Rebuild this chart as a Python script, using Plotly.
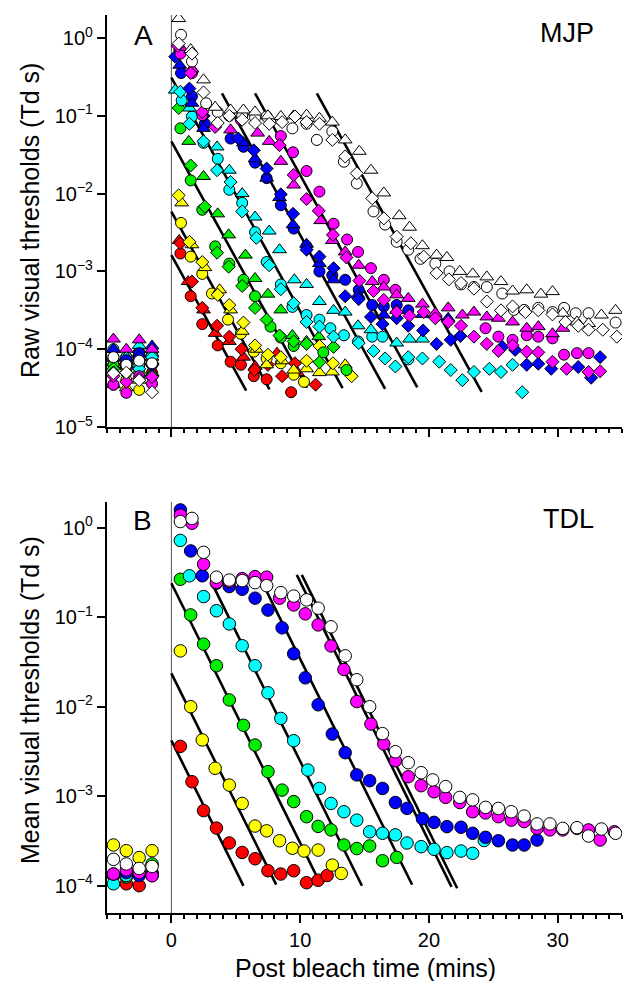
import plotly.graph_objects as go

# ---------------- Panel A (MJP, raw thresholds) ----------------
# each series: times (min) and thresholds (Td s)
a_red_circle_t = [-4.5, -3.5, -2.5, -1.5, 0.7, 1.5, 2.4, 3.6, 4.6, 5.4, 6.4, 7.4, 9.3]
a_red_circle_v = [6.3e-5, 7.9e-5, 5.6e-5, 5.0e-5, 1.7e-3, 4.8e-4, 2.1e-4, 1.12e-4, 6.9e-5, 6.3e-5, 4.5e-5, 4.1e-5, 2.8e-5]
a_red_diamond_t = [-4.5, -3.5, -2.5, -1.5, 0.7, 1.6, 2.4, 3.55, 4.5, 5.45, 6.45, 7.5, 8.6, 9.6, 11.2]
a_red_diamond_v = [7.1e-5, 5.6e-5, 7.9e-5, 6.3e-5, 2.3e-3, 7.4e-4, 3.4e-4, 2.0e-4, 1.45e-4, 1.0e-4, 5.4e-5, 6.3e-5, 4.5e-5, 6.6e-5, 3.5e-5]
a_red_triangle_t = [-4.5, -3.5, -2.5, -1.5, 0.6, 1.3, 2.5, 3.4, 4.5, 5.6, 6.5, 8.2, 9.8]
a_red_triangle_v = [1.0e-4, 7.1e-5, 8.9e-5, 7.9e-5, 2.5e-3, 7.4e-4, 3.2e-4, 1.6e-4, 1.26e-4, 7.9e-5, 6.0e-5, 8.9e-5, 5.0e-5]

a_yellow_circle_t = [-4.5, -3.5, -2.5, -1.5, 0.75, 1.5, 2.4, 3.15, 4.4, 5.4, 6.4, 7.4, 8.5, 9.5, 10.3]
a_yellow_circle_v = [3.5e-5, 4.0e-5, 3.0e-5, 4.5e-5, 4.2e-3, 1.55e-3, 9.3e-4, 5.2e-4, 2.4e-4, 1.58e-4, 9.3e-5, 7.6e-5, 6.6e-5, 4.7e-5, 3.8e-5]
a_yellow_diamond_t = [-4.5, -3.5, -2.5, -1.5, 0.57, 1.4, 2.4, 3.6, 4.5, 5.6, 6.5, 7.5, 8.5, 10.5, 11.5, 12.55, 14.0]
a_yellow_diamond_v = [6.3e-5, 5.0e-5, 7.1e-5, 4.5e-5, 9.5e-3, 2.4e-3, 1.32e-3, 5.0e-4, 3.7e-4, 2.2e-4, 1.12e-4, 8.5e-5, 7.9e-5, 7.1e-5, 1.1e-4, 6.6e-5, 4.5e-5]
a_yellow_triangle_t = [-4.5, -3.5, -2.5, -1.5, 0.8, 1.6, 2.6, 3.75, 4.6, 5.5, 6.6, 7.4, 8.6, 9.5, 10.5, 11.5, 12.5, 13.5]
a_yellow_triangle_v = [3.5e-5, 3.2e-5, 4.0e-5, 5.0e-5, 7.6e-3, 2.2e-3, 1.12e-3, 5.8e-4, 3.2e-4, 1.7e-4, 1.0e-4, 6.3e-5, 7.1e-5, 5.4e-5, 5.6e-5, 5.0e-5, 5.1e-5, 6.3e-5]

a_green_circle_t = [-4.5, -3.5, -2.5, -1.5, 0.7, 1.5, 2.4, 3.4, 4.5, 5.6, 6.5, 7.7, 8.5, 9.5, 11.8, 13.6]
a_green_circle_v = [6.3e-5, 5.0e-5, 7.1e-5, 4.5e-5, 6.9e-2, 1.48e-2, 6.2e-3, 2.1e-3, 1.26e-3, 7.8e-4, 4.8e-4, 1.95e-4, 1.41e-4, 1.1e-4, 9.1e-5, 5.4e-5]
a_green_diamond_t = [-4.5, -3.5, -2.5, -1.5, 0.57, 1.5, 2.6, 3.55, 4.45, 5.5, 6.5, 7.4, 8.4, 9.5, 10.5, 11.5, 12.6]
a_green_diamond_v = [5.6e-5, 7.1e-5, 5.0e-5, 6.3e-5, 0.126, 2.3e-2, 6.8e-3, 1.74e-3, 1.15e-3, 6.5e-4, 3.4e-4, 2.4e-4, 1.5e-4, 1.26e-4, 1.17e-4, 6.8e-5, 1.07e-4]
a_green_triangle_t = [-4.5, -3.5, -2.5, -1.5, 1.35, 2.5, 3.6, 4.45, 5.75, 6.5, 7.5, 8.5, 9.4, 10.5, 11.45]
a_green_triangle_v = [7.9e-5, 6.3e-5, 1.0e-4, 7.1e-5, 4.7e-2, 1.66e-2, 5.5e-3, 2.95e-3, 1.62e-3, 8.1e-4, 5.1e-4, 3.2e-4, 1.5e-4, 1.26e-4, 1.45e-4]

a_cyan_circle_t = [-4.5, -3.5, -2.5, -1.5, 0.8, 1.6, 2.5, 3.6, 4.5, 5.5, 6.5, 7.4, 8.5, 9.4, 10.5, 11.5, 12.35, 13.4, 14.5, 15.6, 16.4, 18.4]
a_cyan_circle_v = [1.0e-4, 7.9e-5, 6.3e-5, 8.9e-5, 0.158, 9.8e-2, 4.5e-2, 2.8e-2, 1.12e-2, 7.6e-3, 3.2e-3, 1.32e-3, 6.8e-4, 3.5e-4, 2.75e-4, 2.4e-4, 1.86e-4, 1.51e-4, 1.26e-4, 1.45e-4, 1.45e-4, 7.4e-5]
a_cyan_diamond_t = [-4.5, -3.5, -2.5, -1.5, 0.7, 1.4, 2.5, 3.55, 4.6, 5.5, 6.6, 7.6, 8.5, 9.5, 10.5, 11.5, 12.6, 14.55, 15.7, 16.6, 17.4, 18.4, 19.5, 20.8, 21.7, 22.6, 23.5, 24.7, 25.6, 26.5, 27.25]
a_cyan_diamond_v = [5.0e-5, 7.1e-5, 5.6e-5, 7.9e-5, 0.204, 7.9e-2, 4.7e-2, 2.0e-2, 1.41e-2, 5.9e-3, 2.7e-3, 1.2e-3, 5.9e-4, 3.9e-4, 2.24e-4, 1.95e-4, 1.45e-4, 1.2e-4, 9.5e-5, 7.6e-5, 6.0e-5, 7.9e-5, 7.6e-5, 6.9e-5, 5.4e-5, 4.0e-5, 5.1e-5, 5.6e-5, 5.1e-5, 6.3e-5, 2.8e-5]
a_cyan_triangle_t = [-4.5, -3.5, -2.5, -1.5, 0.3, 1.4, 3.55, 4.5, 5.5, 6.5, 7.6, 8.4, 9.55, 10.5, 11.5, 12.6, 13.5, 14.5, 15.5, 17.5, 18.5, 19.5]
a_cyan_triangle_v = [1.0e-4, 7.9e-5, 1.12e-4, 8.9e-5, 0.214, 0.126, 3.98e-2, 2.0e-2, 1.0e-2, 5.0e-3, 3.3e-3, 1.9e-3, 7.8e-4, 6.8e-4, 4.1e-4, 3.16e-4, 3.0e-4, 2.0e-4, 1.78e-4, 1.2e-4, 1.35e-4, 1.35e-4]

a_blue_circle_t = [-4.5, -3.5, -2.5, -1.5, 0.75, 1.6, 2.6, 4.6, 5.6, 6.5, 7.4, 8.5, 9.5, 10.5, 11.5, 12.5, 13.5, 14.55, 15.6, 16.5, 17.5, 18.4]
a_blue_circle_v = [7.9e-5, 7.2e-5, 8.9e-5, 6.3e-5, 0.355, 0.178, 7.9e-2, 5.1e-2, 4.0e-2, 2.5e-2, 1.58e-2, 7.1e-3, 3.55e-3, 2.1e-3, 1.0e-3, 8.9e-4, 7.8e-4, 5.8e-4, 3.7e-4, 3.55e-4, 3.7e-4, 3.16e-4]
a_blue_diamond_t = [-4.5, -3.5, -2.5, -1.5, 0.3, 1.4, 2.5, 5.2, 6.4, 7.4, 8.5, 9.45, 10.5, 11.5, 12.6, 13.5, 14.55, 15.5, 16.4, 17.5, 18.4, 19.55, 20.6, 21.7, 22.45, 25.7, 26.7, 27.6, 28.5, 29.5, 31.6, 32.6, 33.3]
a_blue_diamond_v = [5.0e-5, 6.3e-5, 7.9e-5, 6.3e-5, 0.575, 0.224, 0.1, 5.1e-2, 3.6e-2, 2.1e-2, 9.8e-3, 5.5e-3, 1.9e-3, 1.55e-3, 1.1e-3, 4.8e-4, 4.4e-4, 2.6e-4, 2.1e-4, 2.5e-4, 2.0e-4, 1.74e-4, 1.17e-4, 1.32e-4, 1.48e-4, 1.07e-4, 9.8e-5, 6.3e-5, 6.5e-5, 5.6e-5, 5.9e-5, 4.3e-5, 7.9e-5]
a_blue_triangle_t = [-4.5, -3.5, -2.5, -1.5, 0.65, 1.6, 2.5, 5.6, 6.5, 7.4, 8.4, 9.45, 10.5, 11.5, 12.6, 14.5, 16.5, 17.5, 19.5, 21.5]
a_blue_triangle_v = [1.0e-4, 6.3e-5, 7.9e-5, 1.1e-4, 0.447, 0.145, 6.9e-2, 4.5e-2, 2.8e-2, 1.58e-2, 8.9e-3, 3.98e-3, 2.24e-3, 1.26e-3, 7.8e-4, 5.0e-4, 2.75e-4, 3.16e-4, 2.8e-4, 2.5e-4]

a_magenta_circle_t = [-4.5, -3.5, -2.5, -1.5, 0.7, 1.6, 2.4, 5.4, 8.5, 9.45, 10.5, 11.5, 12.6, 13.65, 14.5, 15.5, 16.5, 17.4, 24.4, 25.4, 26.5, 27.6, 28.5, 29.6, 30.5, 31.5, 32.4]
a_magenta_circle_v = [3.5e-5, 2.75e-5, 4.5e-5, 3.6e-5, 0.63, 0.355, 0.102, 8.9e-2, 5.5e-2, 3.4e-2, 1.95e-2, 1.06e-2, 4.1e-3, 2.57e-3, 1.78e-3, 1.1e-3, 7.8e-4, 5.8e-4, 1.86e-4, 1.45e-4, 1.32e-4, 1.51e-4, 1.45e-4, 1.38e-4, 8.5e-5, 8.9e-5, 8.9e-5]
a_magenta_diamond_t = [-4.5, -3.5, -2.5, -1.5, 0.5, 1.5, 2.4, 3.4, 8.4, 9.5, 10.5, 11.45, 12.55, 13.6, 14.6, 15.7, 16.5, 17.5, 18.5, 19.6, 20.5, 21.5, 22.5, 23.5, 24.5, 25.4, 26.5, 27.6, 28.5, 29.6, 30.7, 32.4, 33.3]
a_magenta_diamond_v = [4.5e-5, 3.8e-5, 4.2e-5, 4.4e-5, 0.79, 0.355, 0.112, 7.2e-2, 4.2e-2, 1.74e-2, 8.5e-3, 6.0e-3, 2.95e-3, 1.51e-3, 7.6e-4, 5.6e-4, 4.3e-4, 3.0e-4, 2.7e-4, 3.0e-4, 2.5e-4, 2.24e-4, 2.0e-4, 1.45e-4, 1.17e-4, 9.5e-5, 1.12e-4, 9.3e-5, 9.1e-5, 6.9e-5, 5.6e-5, 5.1e-5, 5.2e-5]
a_magenta_triangle_t = [-4.5, -3.5, -2.5, -1.5, 0.7, 1.6, 4.6, 6.7, 7.6, 8.5, 9.5, 11.6, 12.5, 13.5, 14.55, 15.6, 16.5, 17.5, 18.4, 19.5, 20.5, 21.5, 22.6, 23.5, 24.5, 25.4, 26.5, 27.6, 28.5, 29.6, 30.4]
a_magenta_triangle_v = [1.35e-4, 1.0e-4, 1.32e-4, 1.0e-4, 0.76, 0.4, 6.6e-2, 6.0e-2, 4.7e-2, 2.6e-2, 1.29e-2, 4.5e-3, 2.5e-3, 1.78e-3, 1.2e-3, 7.4e-4, 6.3e-4, 5.0e-4, 4.5e-4, 3.8e-4, 2.9e-4, 3.4e-4, 2.75e-4, 3.0e-4, 2.6e-4, 2.5e-4, 2.24e-4, 1.86e-4, 1.95e-4, 1.58e-4, 1.86e-4]

a_white_circle_t = [-4.5, -3.5, -2.5, -1.5, 0.75, 1.6, 2.7, 3.6, 4.5, 5.5, 6.5, 7.4, 8.5, 9.4, 10.5, 11.3, 12.5, 13.4, 14.4, 15.7, 16.6, 17.5, 18.4, 19.35, 20.5, 21.6, 22.5, 23.5, 24.5, 25.7, 26.6, 27.4, 28.5, 29.6, 30.5, 31.4, 32.4, 34.5]
a_white_circle_v = [7.9e-5, 6.3e-5, 7.1e-5, 6.6e-5, 1.1, 0.5, 0.145, 0.112, 0.1, 0.1, 9.5e-2, 9.8e-2, 8.9e-2, 6.9e-2, 7.9e-2, 4.9e-2, 6.3e-2, 2.57e-2, 1.35e-2, 5.9e-3, 4.0e-3, 2.4e-3, 1.9e-3, 1.45e-3, 1.26e-3, 1.0e-3, 6.8e-4, 6.3e-4, 6.3e-4, 5.2e-4, 3.2e-4, 3.2e-4, 3.4e-4, 3.0e-4, 3.4e-4, 2.9e-4, 2.9e-4, 2.2e-4]
a_white_diamond_t = [-4.5, -3.5, -2.5, -1.5, 0.57, 1.6, 2.5, 3.6, 4.5, 5.5, 6.5, 7.6, 8.6, 9.6, 10.5, 11.5, 12.5, 13.5, 14.4, 15.6, 16.5, 17.5, 18.6, 19.6, 20.6, 21.55, 22.5, 23.5, 24.5, 25.6, 26.5, 27.5, 28.5, 29.6, 30.6, 31.6, 32.4, 33.5, 34.6]
a_white_diamond_v = [4.9e-5, 5.0e-5, 4.0e-5, 2.8e-5, 0.85, 0.63, 0.2, 8.1e-2, 0.1, 8.9e-2, 8.1e-2, 7.9e-2, 8.3e-2, 9.8e-2, 8.3e-2, 7.9e-2, 4.9e-2, 3.0e-2, 1.82e-2, 8.7e-3, 4.8e-3, 2.8e-3, 2.3e-3, 1.55e-3, 9.5e-4, 7.9e-4, 7.1e-4, 6.0e-4, 4.1e-4, 3.16e-4, 3.55e-4, 3.0e-4, 3.16e-4, 2.8e-4, 2.24e-4, 2.0e-4, 1.78e-4, 1.78e-4, 1.45e-4]
a_white_triangle_t = [0.57, 1.5, 2.5, 3.4, 4.6, 5.6, 6.5, 7.5, 8.5, 9.5, 10.5, 11.5, 12.5, 13.5, 14.6, 15.5, 16.5, 17.7, 18.5, 19.5, 20.6, 21.4, 22.4, 23.4, 24.5, 25.6, 26.5, 27.6, 28.7, 29.6, 30.4, 31.5, 32.4, 33.4, 34.5]
a_white_triangle_v = [1.78, 0.71, 0.29, 0.129, 0.119, 0.119, 0.112, 0.1, 9.8e-2, 0.1, 0.102, 9.3e-2, 8.3e-2, 4.9e-2, 3.5e-2, 2.0e-2, 1.02e-2, 5.2e-3, 3.7e-3, 2.14e-3, 1.62e-3, 1.51e-3, 1.0e-3, 9.3e-4, 8.5e-4, 7.4e-4, 5.6e-4, 5.8e-4, 5.1e-4, 5.5e-4, 2.9e-4, 2.24e-4, 2.14e-4, 2.75e-4, 3.16e-4]

# regression lines, panel A (log10 intercept at t=0, slope per min, time span)
a_fit_colors = ["red", "yellow", "green", "cyan", "blue", "magenta", "white"]
a_fit_start = [0.0, 0.0, 0.0, 0.0, 3.93, 6.5, 11.3]
a_fit_end = [5.81, 7.62, 10.55, 13.3, 16.6, 19.1, 24.1]
a_fit_intercept = [-2.79, -2.23, -1.33, -0.51, 0.469, 1.24, 2.68]
a_fit_slope = [-0.3, -0.3, -0.3, -0.3, -0.3, -0.3, -0.3]

# ---------------- Panel B (TDL, mean thresholds) ----------------
b_red_t = [-4.5, -3.5, -2.5, -1.5, 0.7, 1.6, 2.5, 3.5, 4.5, 5.5, 6.5, 7.5, 8.5, 9.5, 10.5, 11.4, 12.1]
b_red_v = [1.3e-4, 1.05e-4, 1.0e-4, 1.3e-4, 3.6e-3, 1.45e-3, 6.9e-4, 4.4e-4, 3.0e-4, 2.35e-4, 2.0e-4, 1.47e-4, 1.35e-4, 1.47e-4, 1.08e-4, 1.15e-4, 1.3e-4]
b_yellow_t = [-4.5, -3.5, -2.5, -1.5, 0.7, 1.5, 2.4, 3.4, 4.5, 5.5, 6.5, 7.4, 8.4, 9.4, 10.3, 11.4, 12.5, 13.2]
b_yellow_v = [2.85e-4, 2.46e-4, 2.06e-4, 2.46e-4, 4.2e-2, 1.0e-2, 4.25e-3, 2.05e-3, 1.33e-3, 8.3e-4, 4.64e-4, 4.1e-4, 3.18e-4, 2.62e-4, 2.44e-4, 2.5e-4, 1.7e-4, 1.37e-4]
b_green_t = [-4.5, -3.5, -2.5, -1.5, 0.7, 1.5, 2.5, 3.5, 4.5, 5.6, 6.5, 7.5, 8.6, 9.5, 10.5, 11.4, 12.4, 13.4, 14.4, 15.4, 16.4, 17.5]
b_green_v = [1.3e-4, 1.25e-4, 1.4e-4, 1.75e-4, 0.265, 0.106, 0.05, 0.0287, 0.0119, 6.2e-3, 3.73e-3, 1.88e-3, 1.17e-3, 8.7e-4, 5.9e-4, 4.6e-4, 4.2e-4, 2.85e-4, 2.6e-4, 2.78e-4, 1.9e-4, 2.07e-4]
b_cyan_t = [-4.5, -3.5, -2.5, -1.5, 0.7, 1.4, 2.5, 3.5, 4.5, 5.5, 6.5, 7.5, 8.5, 9.5, 10.6, 11.5, 12.4, 13.4, 14.4, 15.4, 16.4, 17.4, 18.3, 19.4, 20.4, 21.4, 22.5, 23.4, 24.3]
b_cyan_v = [1.05e-4, 1.3e-4, 1.35e-4, 1.4e-4, 0.72, 0.29, 0.17, 0.118, 0.084, 0.048, 0.0287, 0.0143, 7.4e-3, 4.17e-3, 1.96e-3, 1.22e-3, 8.3e-4, 6.7e-4, 5.4e-4, 4.0e-4, 3.85e-4, 3.7e-4, 3.0e-4, 2.73e-4, 2.55e-4, 2.34e-4, 2.44e-4, 2.3e-4, 3.2e-4]
b_blue_t = [-4.5, -3.5, -2.5, -1.5, 0.7, 1.5, 2.4, 3.5, 4.5, 5.5, 6.5, 7.5, 8.6, 9.5, 10.4, 11.4, 12.5, 13.5, 14.4, 15.4, 16.4, 17.4, 18.3, 19.5, 20.4, 21.4, 22.5, 23.4, 24.4, 25.4, 26.5, 27.4, 28.4]
b_blue_v = [1.35e-4, 1.4e-4, 1.3e-4, 1.35e-4, 1.58, 0.55, 0.29, 0.24, 0.22, 0.205, 0.163, 0.12, 0.076, 0.039, 0.021, 0.0105, 4.95e-3, 3.06e-3, 1.73e-3, 1.49e-3, 1.22e-3, 8.5e-4, 7.3e-4, 5.6e-4, 5.1e-4, 4.57e-4, 4.5e-4, 3.85e-4, 3.47e-4, 3.18e-4, 2.85e-4, 2.85e-4, 3.24e-4]
b_magenta_t = [-4.5, -3.5, -2.5, -1.5, 0.7, 1.6, 2.5, 3.5, 4.5, 5.5, 6.5, 7.4, 8.4, 9.5, 10.4, 11.4, 12.4, 13.4, 14.4, 15.5, 16.5, 17.4, 18.4, 19.4, 20.4, 21.3, 22.4, 23.4, 24.4, 25.4, 26.4, 27.4, 28.4, 29.4, 30.4, 31.5, 32.4, 33.3, 34.4]
b_magenta_v = [1.35e-4, 1.5e-4, 1.4e-4, 1.29e-4, 1.38, 1.12, 0.39, 0.245, 0.25, 0.27, 0.284, 0.28, 0.163, 0.137, 0.109, 0.082, 0.0477, 0.026, 0.0114, 6.4e-3, 3.83e-3, 2.49e-3, 1.65e-3, 1.31e-3, 1.12e-3, 9.7e-4, 8.5e-4, 6.7e-4, 6.5e-4, 5.9e-4, 5.4e-4, 5.2e-4, 4.37e-4, 4.2e-4, 4.2e-4, 4.37e-4, 4.2e-4, 3.24e-4, 4.0e-4]
b_white_t = [-4.5, -3.5, -2.5, -1.5, 0.7, 1.6, 2.5, 3.5, 4.5, 5.5, 6.5, 7.4, 8.5, 9.5, 10.5, 11.4, 12.4, 13.5, 14.4, 15.4, 16.4, 17.4, 18.4, 19.4, 20.3, 21.3, 22.4, 23.4, 24.4, 25.4, 26.4, 27.4, 28.4, 29.4, 30.4, 31.5, 32.4, 33.4, 34.5]
b_white_v = [1.97e-4, 1.75e-4, 1.56e-4, 1.64e-4, 1.17, 1.27, 0.53, 0.28, 0.26, 0.256, 0.243, 0.225, 0.188, 0.172, 0.156, 0.126, 0.078, 0.037, 0.02, 0.01, 5.0e-3, 3.14e-3, 2.37e-3, 1.83e-3, 1.52e-3, 1.28e-3, 9.7e-4, 9.1e-4, 7.5e-4, 7.3e-4, 6.7e-4, 6.0e-4, 4.9e-4, 4.9e-4, 4.37e-4, 4.45e-4, 3.59e-4, 4.3e-4, 3.85e-4]

b_fit_start = [0.0, 0.0, 0.0, 3.28, 7.15, 9.74, 10.13]
b_fit_end = [5.6, 8.14, 11.6, 14.8, 18.7, 21.76, 22.2]
b_fit_intercept = [-2.378, -1.627, -0.621, 0.292, 1.434, 2.297, 2.41]
b_fit_slope = [-0.29, -0.29, -0.29, -0.29, -0.29, -0.29, -0.29]

# tick labels
a_tickvals = [1e-5, 1e-4, 1e-3, 1e-2, 1e-1, 1]
a_ticktext = ["10<sup>\u22125</sup>", "10<sup>\u22124</sup>", "10<sup>\u22123</sup>",
              "10<sup>\u22122</sup>", "10<sup>\u22121</sup>", "10<sup>0</sup>"]
b_tickvals = [1e-4, 1e-3, 1e-2, 1e-1, 1]
b_ticktext = ["10<sup>\u22124</sup>", "10<sup>\u22123</sup>", "10<sup>\u22122</sup>",
              "10<sup>\u22121</sup>", "10<sup>0</sup>"]
x_tickvals = [0, 10, 20, 30]
x_ticktext = ["0", "10", "20", "30"]

COL = {"red": "#ff0000", "yellow": "#ffff00", "green": "#00ee00", "cyan": "#00ffff",
       "blue": "#0000ff", "magenta": "#ff00ff", "white": "#ffffff"}

fig = go.Figure()

# fits first so markers sit on top
for i in range(len(a_fit_colors)):
    ts = [a_fit_start[i], a_fit_end[i]]
    ys = [10 ** (a_fit_intercept[i] + a_fit_slope[i] * t) for t in ts]
    fig.add_trace(go.Scatter(x=ts, y=ys, mode="lines", line=dict(color="black", width=2.6),
                             xaxis="x", yaxis="y", showlegend=False, hoverinfo="skip"))
for i in range(len(b_fit_start)):
    ts = [b_fit_start[i], b_fit_end[i]]
    ys = [10 ** (b_fit_intercept[i] + b_fit_slope[i] * t) for t in ts]
    fig.add_trace(go.Scatter(x=ts, y=ys, mode="lines", line=dict(color="black", width=2.6),
                             xaxis="x2", yaxis="y2", showlegend=False, hoverinfo="skip"))

a_series = [
    ("red", "circle", a_red_circle_t, a_red_circle_v),
    ("red", "triangle-up", a_red_triangle_t, a_red_triangle_v),
    ("red", "diamond", a_red_diamond_t, a_red_diamond_v),
    ("yellow", "circle", a_yellow_circle_t, a_yellow_circle_v),
    ("yellow", "triangle-up", a_yellow_triangle_t, a_yellow_triangle_v),
    ("yellow", "diamond", a_yellow_diamond_t, a_yellow_diamond_v),
    ("green", "circle", a_green_circle_t, a_green_circle_v),
    ("green", "triangle-up", a_green_triangle_t, a_green_triangle_v),
    ("green", "diamond", a_green_diamond_t, a_green_diamond_v),
    ("cyan", "circle", a_cyan_circle_t, a_cyan_circle_v),
    ("cyan", "triangle-up", a_cyan_triangle_t, a_cyan_triangle_v),
    ("cyan", "diamond", a_cyan_diamond_t, a_cyan_diamond_v),
    ("blue", "circle", a_blue_circle_t, a_blue_circle_v),
    ("blue", "triangle-up", a_blue_triangle_t, a_blue_triangle_v),
    ("blue", "diamond", a_blue_diamond_t, a_blue_diamond_v),
    ("magenta", "circle", a_magenta_circle_t, a_magenta_circle_v),
    ("magenta", "triangle-up", a_magenta_triangle_t, a_magenta_triangle_v),
    ("magenta", "diamond", a_magenta_diamond_t, a_magenta_diamond_v),
    ("white", "circle", a_white_circle_t, a_white_circle_v),
    ("white", "triangle-up", a_white_triangle_t, a_white_triangle_v),
    ("white", "diamond", a_white_diamond_t, a_white_diamond_v),
]
SIZES = {"circle": 11, "triangle-up": 12, "diamond": 10}
for col, sym, t, v in a_series:
    fig.add_trace(go.Scatter(x=t, y=v, mode="markers", xaxis="x", yaxis="y", showlegend=False,
                             marker=dict(symbol=sym, size=SIZES[sym], color=COL[col],
                                         line=dict(color="black", width=1))))

b_series = [("red", b_red_t, b_red_v), ("yellow", b_yellow_t, b_yellow_v),
            ("green", b_green_t, b_green_v), ("cyan", b_cyan_t, b_cyan_v),
            ("blue", b_blue_t, b_blue_v), ("magenta", b_magenta_t, b_magenta_v),
            ("white", b_white_t, b_white_v)]
for col, t, v in b_series:
    fig.add_trace(go.Scatter(x=t, y=v, mode="markers", xaxis="x2", yaxis="y2", showlegend=False,
                             marker=dict(symbol="circle", size=12.5, color=COL[col],
                                         line=dict(color="black", width=1))))

FONT = "Liberation Sans, Arial, Helvetica, sans-serif"
tickfont = dict(family=FONT, size=20, color="black")

xcommon = dict(range=[-5, 35], showgrid=False, zeroline=False, showline=True, linecolor="black",
               linewidth=2.2, ticks="outside", ticklen=8, tickwidth=2, tickcolor="black",
               tickvals=x_tickvals, ticktext=x_ticktext, tickfont=tickfont, automargin=False,
               minor=dict(dtick=1, tick0=0, ticks="outside", ticklen=4, tickwidth=1.5,
                          tickcolor="black", showgrid=False))
ycommon = dict(type="log", showgrid=False, zeroline=False, showline=True, linecolor="black",
               linewidth=2.2, ticks="outside", ticklen=8, tickwidth=2, tickcolor="black",
               tickfont=tickfont, automargin=False)

fig.update_layout(
    width=631, height=981,
    margin=dict(l=107, r=9, t=15, b=68, autoexpand=False),
    paper_bgcolor="white", plot_bgcolor="white",
    font=dict(family=FONT, color="black"),
    xaxis=dict(domain=[0, 1], anchor="y", showticklabels=False, **xcommon),
    yaxis=dict(domain=[0.5412, 1], anchor="x", range=[-5, 0.296],
               tickvals=a_tickvals, ticktext=a_ticktext, **ycommon),
    xaxis2=dict(domain=[0, 1], anchor="y2", showticklabels=True, **xcommon),
    yaxis2=dict(domain=[0, 0.4577], anchor="x2", range=[-4.305, 0.287],
                tickvals=b_tickvals, ticktext=b_ticktext, **ycommon),
    shapes=[
        dict(type="line", xref="x", yref="y domain", x0=0, x1=0, y0=0, y1=1,
             line=dict(color="#555555", width=1), layer="below"),
        dict(type="line", xref="x2", yref="y2 domain", x0=0, x1=0, y0=0, y1=1,
             line=dict(color="#555555", width=1), layer="below"),
    ],
    annotations=[
        dict(text="A", xref="paper", yref="paper", x=0.0709, y=0.9777, showarrow=False,
             xanchor="center", yanchor="middle", font=dict(family=FONT, size=28)),
        dict(text="MJP", xref="paper", yref="paper", x=0.894, y=0.9796, showarrow=False,
             xanchor="center", yanchor="middle", font=dict(family=FONT, size=27)),
        dict(text="B", xref="paper", yref="paper", x=0.0699, y=0.4376, showarrow=False,
             xanchor="center", yanchor="middle", font=dict(family=FONT, size=28)),
        dict(text="TDL", xref="paper", yref="paper", x=0.897, y=0.4382, showarrow=False,
             xanchor="center", yanchor="middle", font=dict(family=FONT, size=27)),
        dict(text="Raw visual thresholds (Td s)", xref="paper", yref="paper", x=-0.1495,
             y=0.7706, textangle=-90, showarrow=False, xanchor="center", yanchor="middle",
             font=dict(family=FONT, size=25)),
        dict(text="Mean visual thresholds (Td s)", xref="paper", yref="paper", x=-0.1495,
             y=0.2372, textangle=-90, showarrow=False, xanchor="center", yanchor="middle",
             font=dict(family=FONT, size=25)),
        dict(text="Post bleach time (mins)", xref="paper", yref="paper", x=0.501,
             y=-0.0612, showarrow=False, xanchor="center", yanchor="middle",
             font=dict(family=FONT, size=25)),
    ],
)

# remove the default 8px page margin so the figure sits at the window origin; hide the modebar
fig.write_html("out.html", config={"displayModeBar": False},
               post_script="document.body.style.margin='0px';")
